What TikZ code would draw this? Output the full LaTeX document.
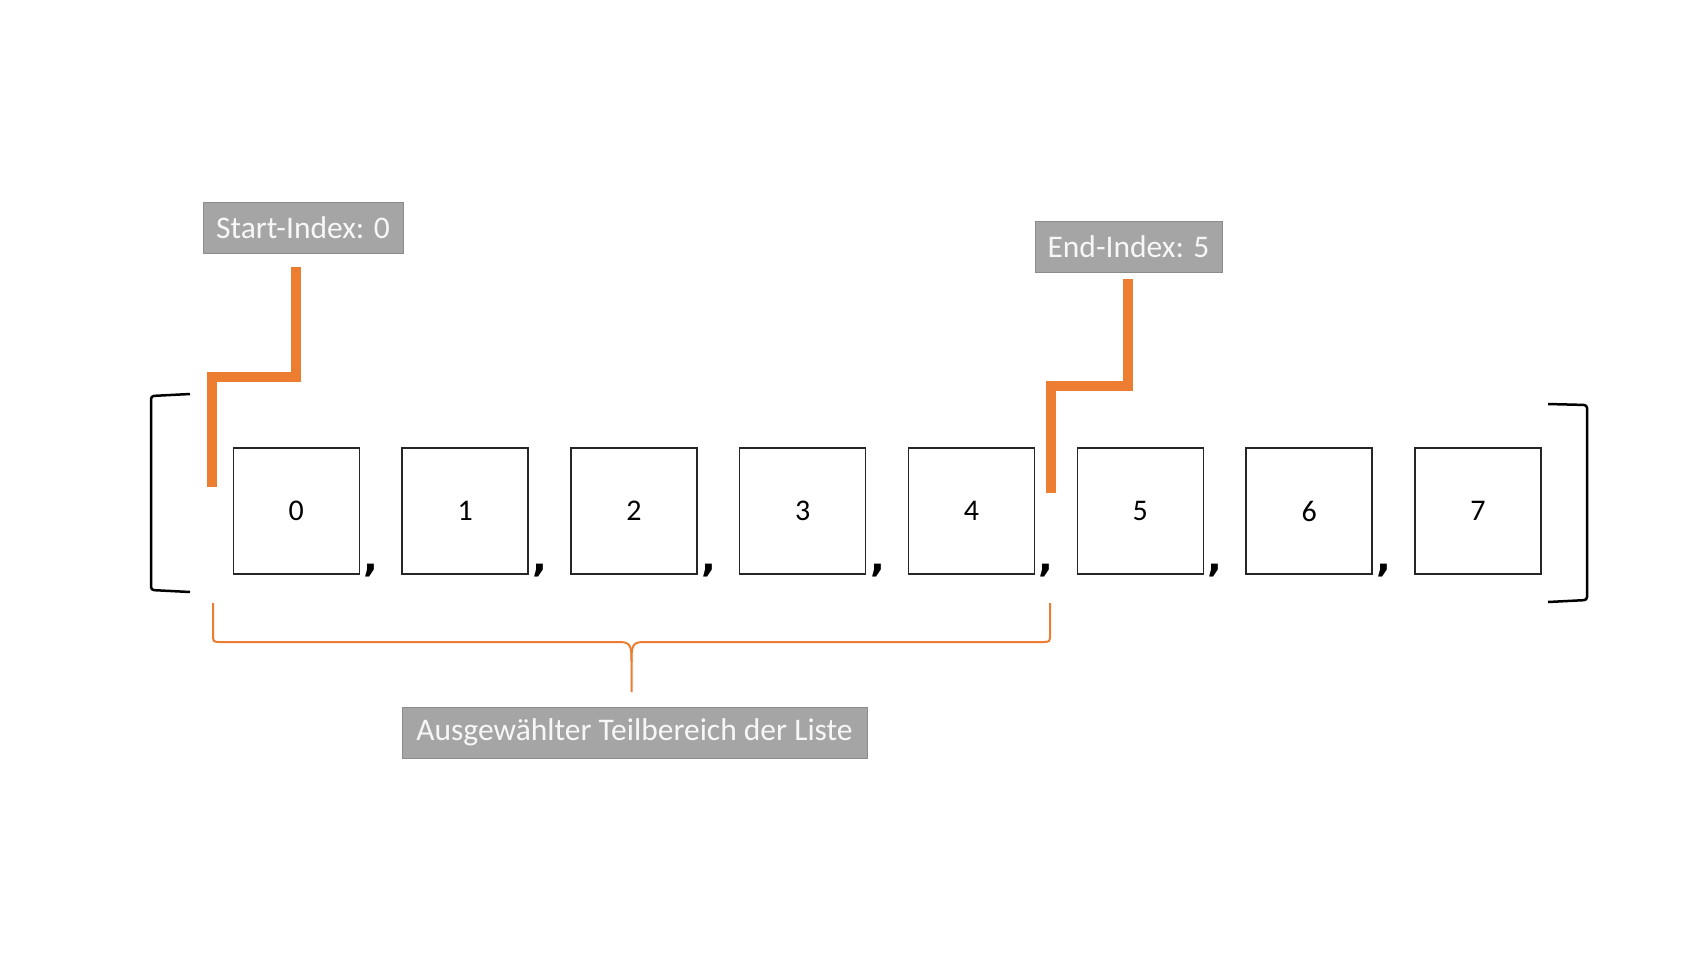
\documentclass[tikz,border=0pt]{standalone}
\usepackage{fontspec}
\setmainfont{Carlito}
\newfontfamily\commafont{DejaVu Sans}
\definecolor{listorange}{HTML}{ED7D31}
\definecolor{taggray}{HTML}{A5A5A5}
\definecolor{tagline}{HTML}{8C8C8C}
\tikzset{
  cell/.style={draw=black!85, line width=1.3pt, minimum size=126pt, inner sep=0pt, font=\fontsize{30}{32}\selectfont},
  tag/.style={fill=taggray, draw=tagline, line width=1pt, text=white!97!black, inner sep=0pt, minimum height=51pt, font=\fontsize{31.5}{33}\selectfont},
  pointer/.style={draw=listorange, line width=10pt},
  rangebrace/.style={draw=listorange, line width=2pt},
  sep/.style={font=\commafont\bfseries\fontsize{39}{39}\selectfont, inner sep=0pt, anchor=base},
  bracket/.style={draw=black, line width=2.5pt, rounded corners=3pt},
}
\begin{document}
\begin{tikzpicture}[x=1pt,y=-1pt]
\useasboundingbox (0,0) rectangle (1688,956);
% Liste mit acht Elementen
\foreach \i in {0,...,7}
  \node[cell] (b\i) at (296.3+168.8*\i, 511) {\i};
\foreach \i in {0,...,6}
  \node[sep] (k\i) at (371+168.8*\i, 571) {,};
% eckige Klammern
\draw[bracket] (190,394) -- (151,396) -- (151,590) -- (190,592);
\draw[bracket] (1548,404) -- (1587,405) -- (1587,600) -- (1548,602);
% Beschriftungen
\node[tag, minimum width=200pt] (start) at (303,228) {Start-Index: 0};
\node[tag, minimum width=187pt] (end) at (1128.5,246.5) {End-Index: 5};
\node[tag, minimum width=465pt] (range) at (634.5,732.5) {Ausgewählter Teilbereich der Liste};
% Zeiger auf Start und Ende
\coordinate (sknee) at (212,377);
\coordinate (spos) at (212,487);
\coordinate (eknee) at (1051,386);
\coordinate (epos) at (1051,493);
\draw[pointer] ([xshift=-7pt,yshift=-13pt]start.south) |- (sknee) -- (spos);
\draw[pointer] ([xshift=-0.5pt,yshift=-6pt]end.south) |- (eknee) -- (epos);
% geschweifte Klammer unter dem Teilbereich
\coordinate (bl) at (213,603);
\coordinate (br) at (1050,603);
\coordinate (tip) at (631.5,692);
\draw[rangebrace] (bl) -- (213,634) .. controls (213,642) .. (221,642) -- (620,642)
  .. controls (631.5,642) and (631.5,648) .. (631.5,662) -- (tip);
\draw[rangebrace] (br) -- (1050,634) .. controls (1050,642) .. (1042,642) -- (643,642)
  .. controls (631.5,642) and (631.5,648) .. (631.5,662);
\end{tikzpicture}
\end{document}
